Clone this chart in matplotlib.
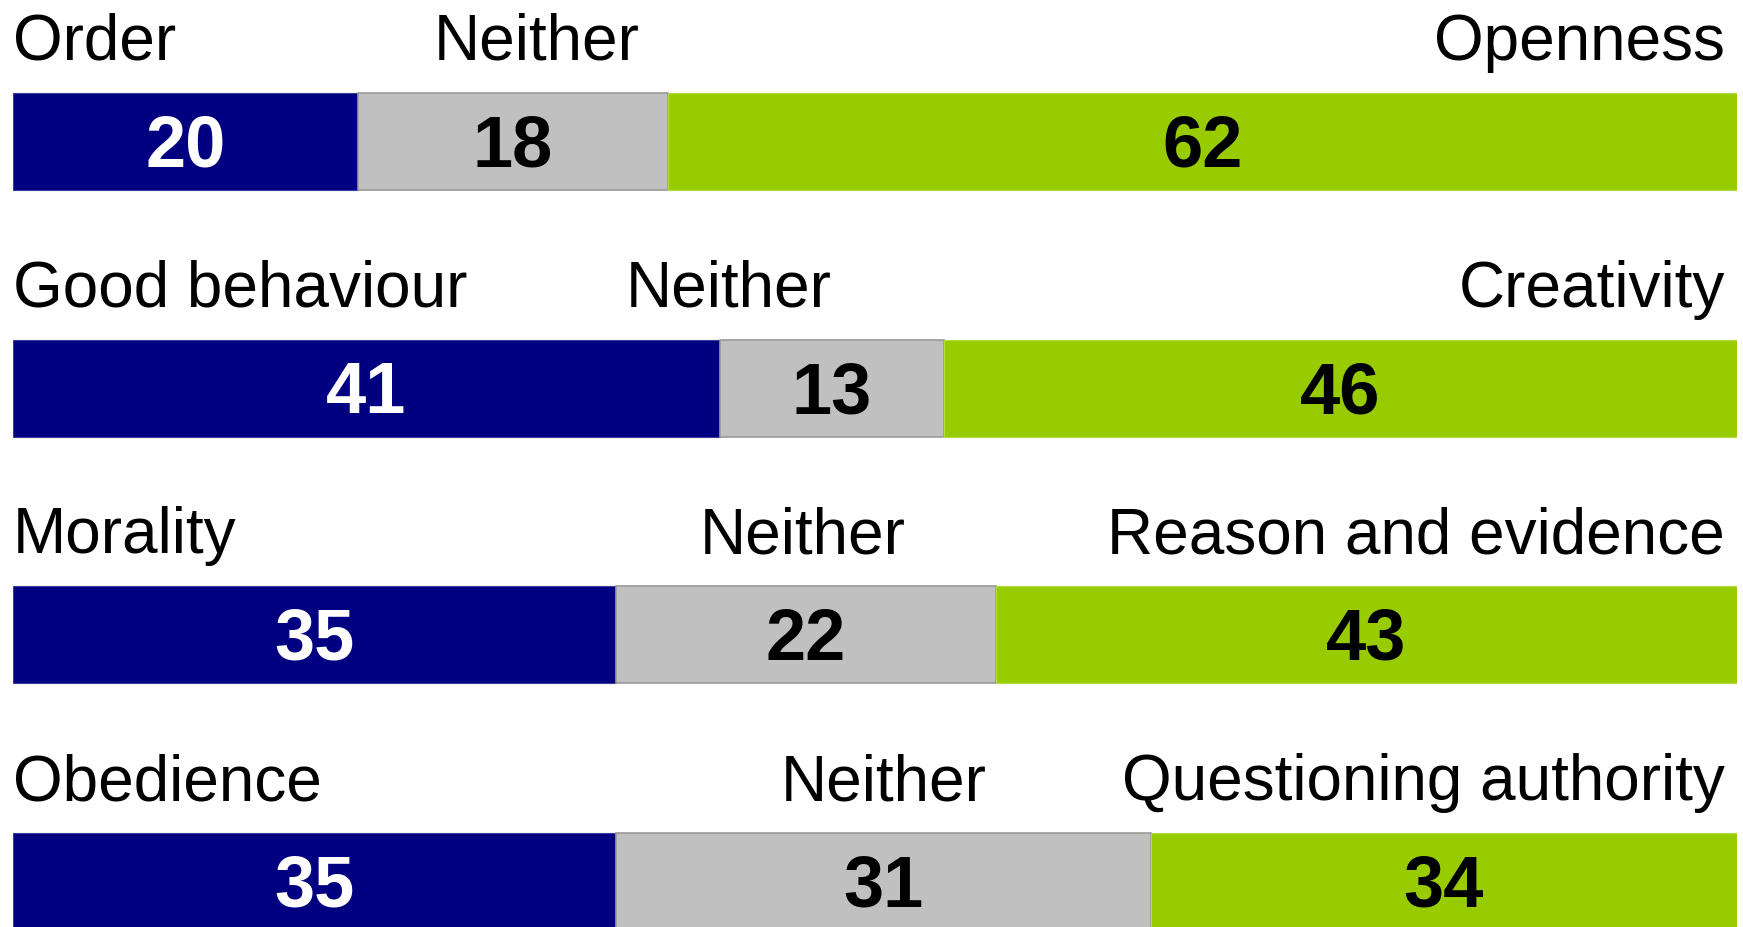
import matplotlib.pyplot as plt

plt.rcParams['font.family'] = ['Liberation Sans', 'DejaVu Sans']

left_labels = ["Order", "Good behaviour", "Morality", "Obedience"]
right_labels = ["Openness", "Creativity", "Reason and evidence", "Questioning authority"]
left_vals = [20, 41, 35, 35]
neither_vals = [18, 13, 22, 31]
right_vals = [62, 46, 43, 34]
# where the "Neither" heading sits along each bar (percent of width)
neither_pos = [30.4, 41.5, 45.8, 50.5]

NAVY = "#000080"
GREY = "#C0C0C0"
GREEN = "#99CC00"

fig = plt.figure(figsize=(17.43, 9.28), dpi=100)
ax = fig.add_axes([13 / 1743, 0, 1724 / 1743, 1])
ax.set_xlim(0, 100)
ax.set_ylim(3.184, -0.577)
ax.axis("off")

bar_h = 0.393
rows = range(len(left_labels))
for i in rows:
    l, n, r = left_vals[i], neither_vals[i], right_vals[i]
    ax.barh(i, l, left=0, height=bar_h, color=NAVY, edgecolor="#3a3a9a", linewidth=0.8)
    ax.barh(i, n, left=l, height=bar_h, color=GREY, edgecolor="#9a9a9a", linewidth=1.2)
    ax.barh(i, r, left=l + n, height=bar_h, color=GREEN, edgecolor="#b5dc40", linewidth=0.8)

    for x0, w, c in [(0, l, "white"), (l, n, "black"), (l + n, r, "black")]:
        ax.text(x0 + w / 2, i + 0.02, str(w), ha="center", va="center",
                fontsize=52, fontweight="bold", color=c)

    ty = i - bar_h / 2 - 0.138
    ax.text(0, ty, left_labels[i], ha="left", va="baseline", fontsize=46)
    ax.text(neither_pos[i], ty, "Neither", ha="center", va="baseline", fontsize=46)
    ax.text(99.3, ty, right_labels[i], ha="right", va="baseline", fontsize=46)

fig.savefig("out.png", dpi=100)
